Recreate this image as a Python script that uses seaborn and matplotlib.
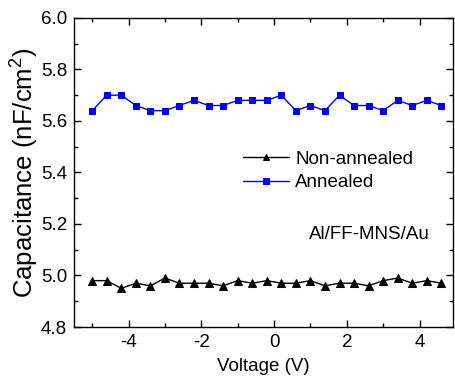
import pandas as pd
import matplotlib
matplotlib.use("Agg")
import matplotlib.pyplot as plt
import seaborn as sns
from matplotlib.ticker import MultipleLocator

# Data
voltage = [-5.0, -4.6, -4.2, -3.8, -3.4, -3.0, -2.6, -2.2, -1.8, -1.4, -1.0, -0.6,
           -0.2, 0.2, 0.6, 1.0, 1.4, 1.8, 2.2, 2.6, 3.0, 3.4, 3.8, 4.2, 4.6]
non_annealed = [4.98, 4.98, 4.95, 4.97, 4.96, 4.99, 4.97, 4.97, 4.97, 4.96, 4.98, 4.97,
                4.98, 4.97, 4.97, 4.98, 4.96, 4.97, 4.97, 4.96, 4.98, 4.99, 4.97, 4.98, 4.97]
annealed = [5.64, 5.70, 5.70, 5.66, 5.64, 5.64, 5.66, 5.68, 5.66, 5.66, 5.68, 5.68,
            5.68, 5.70, 5.64, 5.66, 5.64, 5.70, 5.66, 5.66, 5.64, 5.68, 5.66, 5.68, 5.66]
series_names = ["Non-annealed", "Annealed"]


def main():
    sns.set_style("ticks")
    plt.rcParams["font.family"] = ["Liberation Sans", "DejaVu Sans"]
    plt.rcParams["mathtext.fontset"] = "custom"
    plt.rcParams["mathtext.rm"] = "Liberation Sans"
    plt.rcParams["mathtext.it"] = "Liberation Sans"
    for key in ["text.color", "axes.labelcolor", "xtick.color", "ytick.color"]:
        plt.rcParams[key] = "black"

    df = pd.DataFrame({"Voltage": voltage,
                       series_names[0]: non_annealed,
                       series_names[1]: annealed})

    fig = plt.figure(figsize=(4.55, 3.76), dpi=100)
    ax = fig.add_axes([0.1626, 0.1303, 0.833, 0.822])

    sns.lineplot(data=df, x="Voltage", y=series_names[0], ax=ax, color="black",
                 marker="^", markersize=6, markeredgecolor="black", linewidth=1,
                 label=series_names[0])
    sns.lineplot(data=df, x="Voltage", y=series_names[1], ax=ax, color="#0000ff",
                 marker="s", markersize=5, markeredgecolor="#0000ff", linewidth=1,
                 label=series_names[1])

    ax.set_xlim(-5.5, 4.92)
    ax.set_ylim(4.8, 6.0)
    ax.xaxis.set_major_locator(MultipleLocator(2))
    ax.xaxis.set_minor_locator(MultipleLocator(1))
    ax.yaxis.set_major_locator(MultipleLocator(0.2))
    ax.yaxis.set_minor_locator(MultipleLocator(0.1))
    ax.set_xticks([-4, -2, 0, 2, 4])
    ax.set_xticklabels(["-4", "-2", "0", "2", "4"])
    ax.tick_params(which="both", direction="in", top=True, right=True, width=1)
    ax.tick_params(which="major", length=5, labelsize=13.5, pad=5)
    ax.tick_params(which="minor", length=3)
    for sp in ax.spines.values():
        sp.set_linewidth(1)
        sp.set_color("black")

    ax.set_xlabel("Voltage (V)", fontsize=13.5, labelpad=5)
    ax.set_ylabel(r"Capacitance (nF/cm$^2$)", fontsize=18.5, labelpad=0)

    ax.legend(loc="center left", bbox_to_anchor=(0.42, 0.505), frameon=False,
              fontsize=13.5, handlelength=2.5, handletextpad=0.3,
              borderpad=0, labelspacing=0.35, markerscale=0.8)
    ax.text(0.778, 0.298, "Al/FF-MNS/Au", transform=ax.transAxes,
            ha="center", va="center", fontsize=13.5)

    fig.savefig("out.png", dpi=100)


if __name__ == "__main__":
    main()
